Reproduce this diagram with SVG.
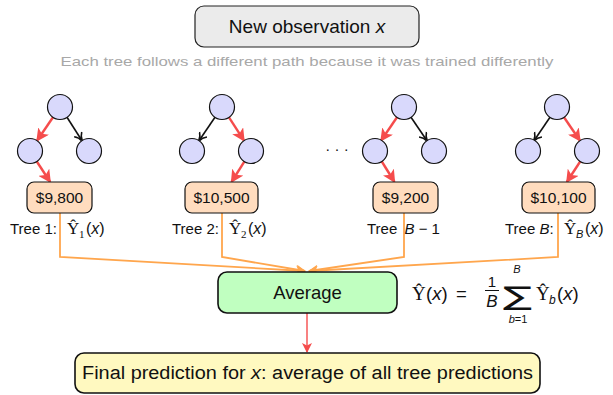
<svg xmlns="http://www.w3.org/2000/svg" width="613" height="395" viewBox="0 0 613 395">
<style>
  text { font-family: "Liberation Sans", Arial, sans-serif; fill: #111; }
  .serif { font-family: "Liberation Serif", "Times New Roman", serif; }
  .it { font-style: italic; }
  .circ { fill: #d9d9fc; stroke: #111; stroke-width: 1.2; }
  .leaf { fill: #ffdcbe; stroke: #111; stroke-width: 1.2; }
  .red { stroke: #f54c4c; stroke-width: 2.4; fill: none; marker-end: url(#mred); }
  .blk { stroke: #111; stroke-width: 1.6; fill: none; marker-end: url(#mblk); }
  .org { stroke: #ffa64d; stroke-width: 1.8; fill: none; marker-end: url(#morg); }
</style>
<defs>
  <marker id="mred" markerUnits="userSpaceOnUse" markerWidth="13" markerHeight="13" refX="9" refY="5" orient="auto" viewBox="0 0 10 10">
    <path d="M0,0 L10,5 L0,10 L2.5,5 z" fill="#f54c4c"/>
  </marker>
  <marker id="mblk" markerUnits="userSpaceOnUse" markerWidth="10" markerHeight="10" refX="8.5" refY="5" orient="auto" viewBox="0 0 10 10">
    <path d="M1,0.5 Q4,4 9,5 Q4,6 1,9.5" fill="none" stroke="#111" stroke-width="1.6"/>
  </marker>
  <marker id="morg" markerUnits="userSpaceOnUse" markerWidth="10" markerHeight="10" refX="9" refY="5" orient="auto" viewBox="0 0 10 10">
    <path d="M0,0 L10,5 L0,10 L2.5,5 z" fill="#ffa64d"/>
  </marker>
  <marker id="mred2" markerUnits="userSpaceOnUse" markerWidth="10" markerHeight="10" refX="9" refY="5" orient="auto" viewBox="0 0 10 10">
    <path d="M0,0 L10,5 L0,10 L2.5,5 z" fill="#f54c4c"/>
  </marker>
</defs>

<g id="new-observation">
  <rect x="195" y="6" width="224" height="41" rx="9" fill="#ebebeb" stroke="#222" stroke-width="1.2"/>
  <text x="307" y="33" font-size="19" text-anchor="middle">New observation <tspan class="it">x</tspan></text>
</g>
<text id="subtitle" x="307" y="66" font-size="13" text-anchor="middle" textLength="493" lengthAdjust="spacingAndGlyphs" style="fill:#a8a8a8">Each tree follows a different path because it was trained differently</text>

<g id="connectors">
  <!-- tree 1 -->
  <line class="red" x1="53" y1="117.3" x2="37" y2="140.7"/>
  <line class="blk" x1="67" y1="117.3" x2="82" y2="140.7"/>
  <line class="red" x1="36.8" y1="161.5" x2="50.2" y2="182"/>
  <!-- tree 2 -->
  <line class="blk" x1="215" y1="117.3" x2="199" y2="140.7"/>
  <line class="red" x1="229" y1="117.3" x2="244" y2="140.7"/>
  <line class="red" x1="244.3" y1="161.6" x2="231.5" y2="182"/>
  <!-- tree B-1 -->
  <line class="red" x1="397" y1="117.3" x2="381" y2="140.7"/>
  <line class="blk" x1="411" y1="117.3" x2="427" y2="140.7"/>
  <line class="red" x1="381.8" y1="161.5" x2="394.5" y2="182"/>
  <!-- tree B -->
  <line class="blk" x1="550" y1="117.3" x2="534" y2="140.7"/>
  <line class="red" x1="564" y1="117.3" x2="580" y2="140.7"/>
  <line class="red" x1="580.2" y1="161.5" x2="566.8" y2="182"/>
  <!-- to average -->
  <polyline class="org" points="60,213 60,257 305,271"/>
  <polyline class="org" points="222,213 222,257 305,271"/>
  <polyline class="org" points="404,213 404,257 309,271"/>
  <polyline class="org" points="558,213 558,257 309,271"/>
  <!-- to final -->
  <line x1="307" y1="313" x2="307" y2="352" stroke="#f54c4c" stroke-width="1.4" marker-end="url(#mred2)"/>
</g>

<g id="tree-1">
  <circle class="circ" cx="60" cy="107" r="12.5"/>
  <circle class="circ" cx="30" cy="151" r="12.5"/>
  <circle class="circ" cx="89" cy="151" r="12.5"/>
</g>
<g id="leaf-1">
  <rect class="leaf" x="27" y="182" width="65" height="31" rx="7"/>
  <text x="59.5" y="203" font-size="15.5" text-anchor="middle">$9,800</text>
</g>
<g id="label-1">
  <text x="10" y="234" font-size="15">Tree 1:</text>
  <text x="67" y="234" font-size="17" class="serif">Ŷ</text>
  <text x="79" y="238" font-size="11" class="serif">1</text>
  <text x="86" y="234" font-size="16">(<tspan class="it">x</tspan>)</text>
</g>

<g id="tree-2">
  <circle class="circ" cx="222" cy="107" r="12.5"/>
  <circle class="circ" cx="192" cy="151" r="12.5"/>
  <circle class="circ" cx="251" cy="151" r="12.5"/>
</g>
<g id="leaf-2">
  <rect class="leaf" x="185" y="182" width="73" height="31" rx="7"/>
  <text x="221.5" y="203" font-size="15.5" text-anchor="middle">$10,500</text>
</g>
<g id="label-2">
  <text x="172" y="234" font-size="15">Tree 2:</text>
  <text x="229" y="234" font-size="17" class="serif">Ŷ</text>
  <text x="241" y="238" font-size="11" class="serif">2</text>
  <text x="248" y="234" font-size="16">(<tspan class="it">x</tspan>)</text>
</g>

<text id="ellipsis" x="337" y="154" font-size="15" text-anchor="middle">· · ·</text>

<g id="tree-B-1">
  <circle class="circ" cx="404" cy="107" r="12.5"/>
  <circle class="circ" cx="375" cy="151" r="12.5"/>
  <circle class="circ" cx="434" cy="151" r="12.5"/>
</g>
<g id="leaf-B-1">
  <rect class="leaf" x="373" y="182" width="65" height="31" rx="7"/>
  <text x="405.5" y="203" font-size="15.5" text-anchor="middle">$9,200</text>
</g>
<g id="label-B-1">
  <text x="367" y="234" font-size="15">Tree <tspan class="it" dx="3">B</tspan> − 1</text>
</g>

<g id="tree-B">
  <circle class="circ" cx="557" cy="107" r="12.5"/>
  <circle class="circ" cx="528" cy="151" r="12.5"/>
  <circle class="circ" cx="587" cy="151" r="12.5"/>
</g>
<g id="leaf-B">
  <rect class="leaf" x="522" y="182" width="73" height="31" rx="7"/>
  <text x="558.5" y="203" font-size="15.5" text-anchor="middle">$10,100</text>
</g>
<g id="label-B">
  <text x="505" y="234" font-size="15">Tree <tspan class="it">B</tspan>:</text>
  <text x="564" y="234" font-size="17" class="serif">Ŷ</text>
  <text x="576" y="238" font-size="11" class="it">B</text>
  <text x="585" y="234" font-size="16">(<tspan class="it">x</tspan>)</text>
</g>

<g id="average">
  <rect x="218" y="272" width="179" height="41" rx="9" fill="#c0ffc0" stroke="#111" stroke-width="1.6"/>
  <text x="307.5" y="299" font-size="18.5" text-anchor="middle">Average</text>
</g>

<g id="formula">
  <text x="412" y="300" font-size="19" class="serif">Ŷ</text>
  <text x="426" y="300" font-size="18.5">(<tspan class="it">x</tspan>)</text>
  <text x="456" y="300" font-size="18.5">=</text>
  <text x="492" y="287" font-size="15" text-anchor="middle">1</text>
  <line x1="485" y1="290.5" x2="499" y2="290.5" stroke="#111" stroke-width="1"/>
  <text x="492" y="307" font-size="17" class="it" text-anchor="middle">B</text>
  <text x="517.5" y="305" font-size="26" font-family="DejaVu Sans, sans-serif" style="font-family:'DejaVu Sans',sans-serif" text-anchor="middle" textLength="29" lengthAdjust="spacingAndGlyphs">∑</text>
  <text x="517" y="273" font-size="11" class="it" text-anchor="middle">B</text>
  <text x="518" y="323" font-size="11" text-anchor="middle"><tspan class="it">b</tspan>=1</text>
  <text x="536" y="300" font-size="19" class="serif">Ŷ</text>
  <text x="549" y="304" font-size="12" class="it">b</text>
  <text x="557" y="300" font-size="18.5">(<tspan class="it">x</tspan>)</text>
</g>

<g id="final">
  <rect x="75" y="353" width="465" height="40" rx="9" fill="#fff9c0" stroke="#111" stroke-width="1.6"/>
  <text x="307.5" y="379" font-size="18" text-anchor="middle" textLength="451" lengthAdjust="spacingAndGlyphs">Final prediction for <tspan class="it">x</tspan>: average of all tree predictions</text>
</g>
</svg>
